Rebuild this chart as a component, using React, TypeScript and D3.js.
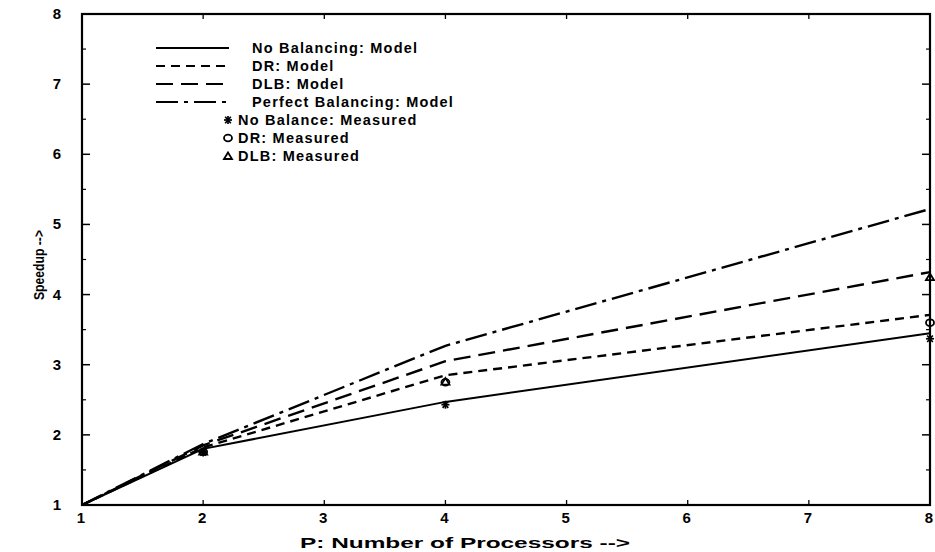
import React from "react";
import * as d3 from "d3";

const procs = [1, 2, 4, 8];
const noBalModel = [1, 1.8, 2.47, 3.45];
const drModel = [1, 1.82, 2.85, 3.71];
const dlbModel = [1, 1.85, 3.05, 4.32];
const perfectModel = [1, 1.87, 3.27, 5.22];
const noBalMeasured = [1, 1.75, 2.43, 3.37];
const drMeasured = [1, 1.76, 2.75, 3.6];
const dlbMeasured = [1, 1.76, 2.76, 4.25];
const xTicks = [1, 2, 3, 4, 5, 6, 7, 8];
const yTicks = [1, 2, 3, 4, 5, 6, 7, 8];
const lineLegend = ["No Balancing: Model", "DR:  Model", "DLB:  Model", "Perfect Balancing: Model"];
const markLegend = ["No Balance: Measured", "DR:  Measured", "DLB:  Measured"];

const W = 935, H = 552;
const L = 82, R = 930, T = 14, B = 505;
const FONT = "'Liberation Sans', Arial, sans-serif";

const dashes = [undefined, "9,6", "17,8", "22,6,4,6"];

function Marker({ kind, x, y }: { kind: string; x: number; y: number }) {
  if (kind === "star") {
    const r = 4;
    return (
      <g stroke="#000" strokeWidth={1.7}>
        <line x1={x - r} y1={y} x2={x + r} y2={y} />
        <line x1={x - r * 0.7} y1={y - r * 0.8} x2={x + r * 0.7} y2={y + r * 0.8} />
        <line x1={x - r * 0.7} y1={y + r * 0.8} x2={x + r * 0.7} y2={y - r * 0.8} />
        <line x1={x} y1={y - r} x2={x} y2={y + r} />
      </g>
    );
  }
  if (kind === "circle") {
    return <ellipse cx={x} cy={y} rx={4} ry={3.3} fill="none" stroke="#000" strokeWidth={1.8} />;
  }
  return (
    <path
      d={`M${x - 4},${y + 3}L${x},${y - 3.5}L${x + 4},${y + 3}Z`}
      fill="none"
      stroke="#000"
      strokeWidth={1.8}
    />
  );
}

export default function App() {
  const x = d3.scaleLinear().domain([1, 8]).range([L, R]);
  const y = d3.scaleLinear().domain([1, 8]).range([B, T]);
  const line = d3
    .line<number>()
    .x((_, i) => x(procs[i]))
    .y((d) => y(d));

  const models = [noBalModel, drModel, dlbModel, perfectModel];
  const measured: [number[], string][] = [
    [noBalMeasured, "star"],
    [drMeasured, "circle"],
    [dlbMeasured, "tri"],
  ];
  const yMinor = d3.range(1.5, 8, 1);

  return (
    <svg width={W} height={H} style={{ position: "absolute", left: 0, top: 0, background: "#fff" }}>
      <rect x={0} y={0} width={W} height={H} fill="#fff" />
      {/* frame */}
      <rect x={L} y={T} width={R - L} height={B - T} fill="none" stroke="#000" strokeWidth={2.2} />
      {/* left ticks */}
      {yTicks.map((t) => (
        <line key={"yl" + t} x1={L} x2={L + 8} y1={y(t)} y2={y(t)} stroke="#000" strokeWidth={1.5} />
      ))}
      {yMinor.map((t) => (
        <line key={"ym" + t} x1={L} x2={L + 4} y1={y(t)} y2={y(t)} stroke="#000" strokeWidth={1.2} />
      ))}
      {/* right ticks */}
      {yTicks.map((t) => (
        <line key={"yr" + t} x1={R} x2={R - 8} y1={y(t)} y2={y(t)} stroke="#000" strokeWidth={1.5} />
      ))}
      {yMinor.map((t) => (
        <line key={"yrm" + t} x1={R} x2={R - 4} y1={y(t)} y2={y(t)} stroke="#000" strokeWidth={1.2} />
      ))}
      {/* bottom/top ticks */}
      {xTicks.map((t) => (
        <g key={"xt" + t}>
          <line x1={x(t)} x2={x(t)} y1={B} y2={B - 5} stroke="#000" strokeWidth={1.3} />
          <line x1={x(t)} x2={x(t)} y1={T} y2={T + 5} stroke="#000" strokeWidth={1.3} />
        </g>
      ))}
      {/* tick labels */}
      {xTicks.map((t) => (
        <text
          key={"xl" + t}
          x={x(t) - 1}
          y={B + 18}
          textAnchor="middle"
          fontFamily={FONT}
          fontWeight="bold"
          fontSize={15}
        >
          {t}
        </text>
      ))}
      {yTicks.map((t) => (
        <text
          key={"yl2" + t}
          x={61}
          y={y(t) + 5}
          textAnchor="end"
          fontFamily={FONT}
          fontWeight="bold"
          fontSize={15}
        >
          {t}
        </text>
      ))}
      {/* axis titles */}
      <text
        x={300}
        y={548}
        fontFamily={FONT}
        fontWeight="bold"
        fontSize={15}
        textLength={330}
        lengthAdjust="spacingAndGlyphs"
      >
        P: Number of Processors --&gt;
      </text>
      <text
        transform={`translate(44,${265}) rotate(-90)`}
        textAnchor="middle"
        fontFamily={FONT}
        fontWeight="bold"
        fontSize={15}
        textLength={70}
        lengthAdjust="spacingAndGlyphs"
      >
        Speedup --&gt;
      </text>
      {/* model lines */}
      {models.map((m, i) => (
        <path
          key={"m" + i}
          d={line(m) || ""}
          fill="none"
          stroke="#000"
          strokeWidth={i === 0 ? 2 : 2.4}
          strokeDasharray={dashes[i]}
        />
      ))}
      {/* measured markers */}
      {measured.map(([vals, kind], j) =>
        vals.slice(1).map((v, i) => (
          <Marker key={"mk" + j + "-" + i} kind={kind} x={x(procs[i + 1])} y={y(v)} />
        ))
      )}
      {/* legend */}
      {lineLegend.map((lab, i) => {
        const ly = 48 + i * 18;
        return (
          <g key={"lg" + i}>
            <line x1={156} x2={229} y1={ly} y2={ly} stroke="#000" strokeWidth={2.2} strokeDasharray={dashes[i]} />
            <text x={252} y={ly + 5} fontFamily={FONT} fontWeight="bold" fontSize={14.5} letterSpacing={1.2}>
              {lab}
            </text>
          </g>
        );
      })}
      {markLegend.map((lab, i) => {
        const ly = 48 + (i + 4) * 18;
        return (
          <g key={"ml" + i}>
            <Marker kind={["star", "circle", "tri"][i]} x={228} y={ly} />
            <text x={238} y={ly + 5} fontFamily={FONT} fontWeight="bold" fontSize={14.5} letterSpacing={1.2}>
              {lab}
            </text>
          </g>
        );
      })}
    </svg>
  );
}
